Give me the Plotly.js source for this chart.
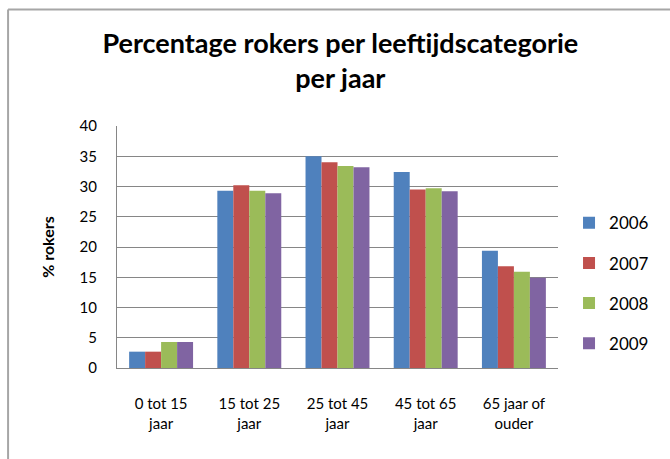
<!DOCTYPE html>
<html>
<head>
<meta charset="utf-8">
<script src="https://cdn.plot.ly/plotly-3.0.1.min.js"></script>
<style>html,body{margin:0;padding:0;background:#fff;}#chart{width:670px;height:459px;}</style>
</head>
<body>
<div id="chart"></div>
<script>
const categories = ["0 tot 15<br>jaar", "15 tot 25<br>jaar", "25 tot 45<br>jaar", "45 tot 65<br>jaar", "65 jaar of<br>ouder"];
const years = ["2006", "2007", "2008", "2009"];
const v2006 = [2.7, 29.3, 35.0, 32.4, 19.4];
const v2007 = [2.7, 30.2, 34.0, 29.5, 16.8];
const v2008 = [4.3, 29.3, 33.4, 29.7, 15.9];
const v2009 = [4.3, 28.9, 33.2, 29.2, 14.9];
const colors = ["#4F81BD", "#C0504D", "#9BBB59", "#8064A2"];
const series = [v2006, v2007, v2008, v2009];

const FONT = "Lato, 'Open Sans', sans-serif";
const traces = series.map((vals, i) => ({
  type: "bar",
  name: years[i],
  x: categories,
  y: vals,
  marker: {color: colors[i], line: {width: 0}},
  legendgroup: "g" + i,
  hoverinfo: "y"
}));

const layout = {
  width: 670, height: 459,
  margin: {l: 117, r: 112, t: 126, b: 91},
  paper_bgcolor: "#fff", plot_bgcolor: "#fff",
  font: {family: FONT, color: "#000"},
  title: {
    text: "<b>Percentage rokers per leeftijdscategorie<br>per jaar</b>",
    font: {family: FONT, size: 27, color: "#000"},
    x: 0.508, xanchor: "center", xref: "container",
    y: 0.885, yanchor: "middle", yref: "container"
  },
  barmode: "group",
  bargap: 0.275,
  bargroupgap: 0,
  showlegend: true,
  legend: {
    x: 1.025, xanchor: "left", y: 0.35, yanchor: "middle",
    font: {family: FONT, size: 17, color: "#000"},
    traceorder: "grouped", tracegroupgap: 15,
    itemwidth: 30, bgcolor: "rgba(0,0,0,0)"
  },
  xaxis: {
    type: "category",
    showline: true, linecolor: "#868686", linewidth: 1,
    showgrid: false, ticks: "",
    tickfont: {family: FONT, size: 15, color: "#000"},
    ticklabelstandoff: 22,
    automargin: false
  },
  yaxis: {
    range: [0, 40], dtick: 5, tick0: 0,
    showline: true, linecolor: "#868686", linewidth: 1,
    showgrid: true, gridcolor: "#868686", gridwidth: 1,
    zeroline: false, ticks: "",
    tickfont: {family: FONT, size: 15, color: "#000"},
    ticklabelstandoff: 16,
    title: {text: "<b>% rokers</b>", font: {family: FONT, size: 16, color: "#000"}, standoff: 20},
    automargin: false
  },
  shapes: [
    {type: "line", xref: "paper", yref: "paper", x0: -0.247, x1: -0.247, y0: 1.481, y1: -0.4, line: {color: "#A6A6A6", width: 2}},
    {type: "line", xref: "paper", yref: "paper", x0: -0.247, x1: 1.26, y0: 1.481, y1: 1.481, line: {color: "#A6A6A6", width: 2}}
  ]
};

Plotly.newPlot("chart", traces, layout, {displayModeBar: false, staticPlot: true});
</script>
</body>
</html>
